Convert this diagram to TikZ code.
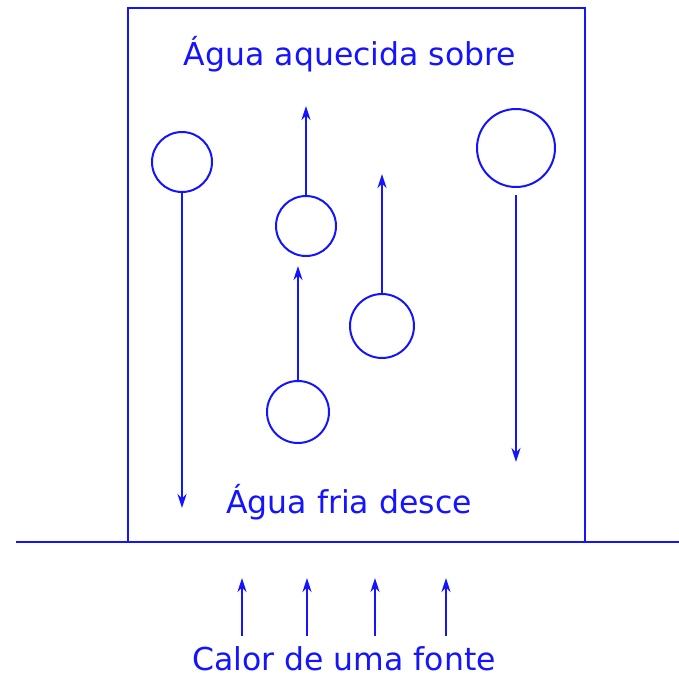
\documentclass[tikz,border=0pt]{standalone}
\usepackage{fontspec}
\setmainfont{DejaVu Sans}
\usetikzlibrary{arrows.meta}
\definecolor{bl}{RGB}{20,20,255}
\begin{document}
\begin{tikzpicture}[x=1pt,y=-1pt,
  ln/.style={draw=bl,line width=2.4pt},
  bub/.style={circle,draw=bl,line width=2pt,inner sep=0pt},
  arr/.style={draw=bl,line width=2.4pt,-{Stealth[length=14pt,width=9pt]}},
  lbl/.style={text=bl,font=\fontsize{31.5}{36}\selectfont,inner sep=0pt,anchor=base}]
\useasboundingbox (0,0) rectangle (679,681);
% box and ground
\draw[ln] (128,542) -- (128,8) -- (585,8) -- (585,542);
\coordinate (gl) at (16,542);
\coordinate (gr) at (679,542);
\draw[ln] (gl) -- (gr);
% bubbles
\node[bub,minimum size=60pt] (c1) at (182,162) {};
\node[bub,minimum size=60pt] (c2) at (306,226) {};
\node[bub,minimum size=64pt] (c3) at (382,326) {};
\node[bub,minimum size=62pt] (c4) at (298,412) {};
\node[bub,minimum size=78pt] (c5) at (516,148) {};
% arrow ends
\coordinate (e1) at (182,508);
\coordinate (e2) at (306,106);
\coordinate (e3) at (382,174);
\coordinate (e4) at (298,266);
\coordinate (s5) at (516,195);
\coordinate (e5) at (516,462);
\draw[arr] (c1.south) -- (e1);
\draw[arr] (c2.north) -- (e2);
\draw[arr] (c3.north) -- (e3);
\draw[arr] (c4.north) -- (e4);
\draw[arr] (s5) -- (e5);
% heat arrows
\foreach \i/\x in {1/242,2/307,3/375,4/446}{
  \coordinate (hb\i) at (\x,636);
  \coordinate (ht\i) at (\x,578);
  \draw[arr] (hb\i) -- (ht\i);
}
% labels
\node[lbl] (t1) at (350,65) {Água aquecida sobre};
\node[lbl] (t2) at (349,513) {Água fria desce};
\node[lbl] (t3) at (344,670) {Calor de uma fonte};
\end{tikzpicture}
\end{document}
